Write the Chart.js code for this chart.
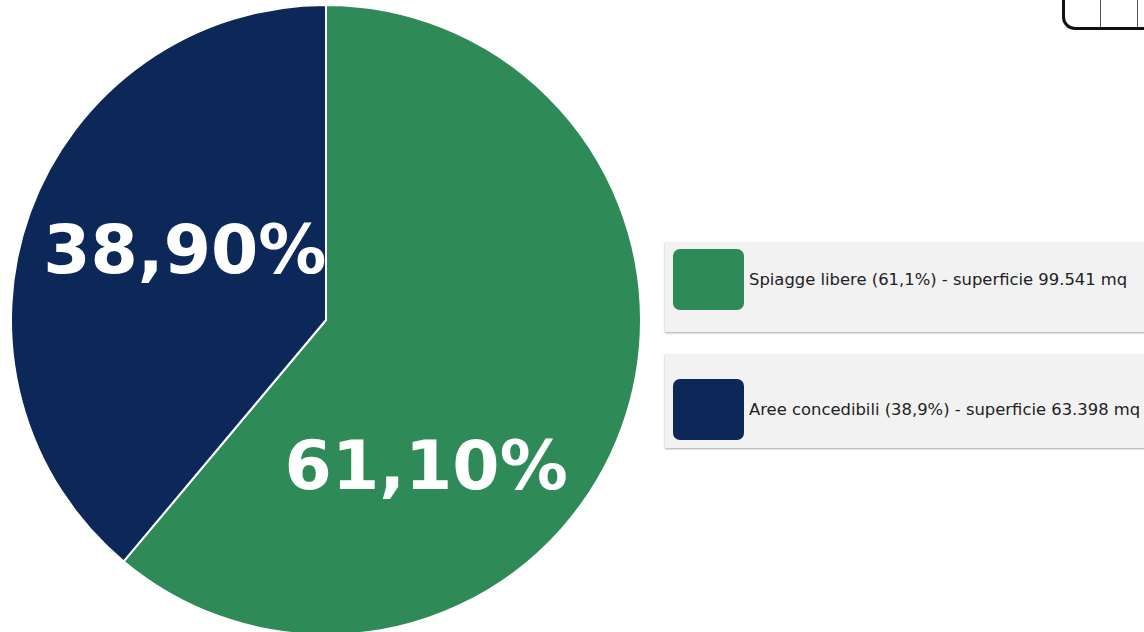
<!DOCTYPE html>
<html lang="it">
<head>
<meta charset="utf-8">
<script src="https://cdn.jsdelivr.net/npm/chart.js@4.4.1/dist/chart.umd.min.js"></script>
<style>
    html, body { margin: 0; padding: 0; background: #fff; overflow: hidden; width: 1144px; height: 632px; }
    #wrap { position: absolute; left: 0; top: 0; width: 652px; height: 650px; }
    #legenda { position: absolute; left: 665px; top: 242px; width: 500px; font-family: "DejaVu Sans", sans-serif; font-size: 16.4px; color: #222; }
    .voce { background: #f2f2f2; display: flex; align-items: center; box-shadow: 0 1px 2px rgba(0,0,0,0.35); }
    .voce .box { width: 71px; height: 61px; border-radius: 7px; margin: 0 5px 0 8px; flex: none; }
    .voce span { white-space: nowrap; }
    #tabella { position: absolute; left: 1062px; top: -18px; width: 100px; height: 48px; border: 3px solid #111; border-bottom-left-radius: 13px; box-sizing: border-box; }
    #tabella i { position: absolute; top: 0; bottom: 0; width: 1px; background: #555; }
</style>
</head>
<body>
<div id="wrap"><canvas id="torta"></canvas></div>
<div id="legenda"></div>
<div id="tabella"><i style="left:35px"></i><i style="left:72px"></i></div>
<script>
// dati
const categorie = ['Spiagge libere', 'Aree concedibili'];
const percentuali = [61.1, 38.9];
const superfici = [99541, 63398];
const colori = ['#2e8b57', '#0c2858'];

function formattaNumero(n) {
    return String(n).replace(/\B(?=(\d{3})+(?!\d))/g, '.');
}

function virgola(n, dec) {
    return n.toFixed(dec).replace('.', ',');
}

// etichette grandi dentro le fette
const etichettePlugin = {
    id: 'etichette',
    afterDatasetsDraw(chart, args, opts) {
        const ctx = chart.ctx;
        const meta = chart.getDatasetMeta(0);
        ctx.save();
        ctx.fillStyle = '#fff';
        ctx.font = 'bold 68px "DejaVu Sans"';
        ctx.textAlign = 'center';
        ctx.textBaseline = 'alphabetic';
        meta.data.forEach((arc, i) => {
            const pos = opts.posizioni[i];
            const a = arc.startAngle + pos.angolo * (arc.endAngle - arc.startAngle);
            const r = arc.outerRadius * pos.raggio;
            const x = arc.x + Math.cos(a) * r;
            const y = arc.y + Math.sin(a) * r;
            ctx.fillText(virgola(percentuali[i], 2) + '%', x, y + 68 * 0.73 / 2);
        });
        ctx.restore();
    }
};

const grafico = new Chart(document.getElementById('torta'), {
    type: 'pie',
    data: {
        labels: categorie,
        datasets: [{
            data: percentuali,
            backgroundColor: colori,
            borderColor: '#ffffff',
            borderWidth: 2
        }]
    },
    options: {
        responsive: true,
        maintainAspectRatio: false,
        animation: false,
        layout: { padding: { left: 10, right: 10, top: 4, bottom: 14 } },
        plugins: {
            legend: { display: false },
            tooltip: { enabled: false },
            etichette: {
                posizioni: [
                    { angolo: 0.66, raggio: 0.557 },
                    { angolo: 0.55, raggio: 0.503 }
                ]
            }
        }
    },
    plugins: [etichettePlugin]
});

// legenda html
const legenda = document.getElementById('legenda');
const spaziature = [
    { top: 7, bottom: 22, margine: 22 },
    { top: 25, bottom: 8, margine: 0 }
];
categorie.forEach((nome, i) => {
    const div = document.createElement('div');
    div.className = 'voce';
    div.style.padding = spaziature[i].top + 'px 0 ' + spaziature[i].bottom + 'px 0';
    div.style.marginBottom = spaziature[i].margine + 'px';
    div.innerHTML = `
        <div class="box" style="background:${colori[i]}"></div>
        <span>${nome} (${virgola(percentuali[i], 1)}%) - superficie ${formattaNumero(superfici[i])} mq</span>
    `;
    legenda.appendChild(div);
});
</script>
</body>
</html>
